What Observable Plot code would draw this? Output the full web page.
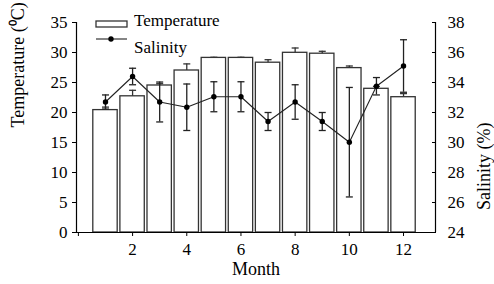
<!DOCTYPE html>
<html><head><meta charset="utf-8">
<script src="https://cdn.jsdelivr.net/npm/d3@7"></script>
<script src="https://cdn.jsdelivr.net/npm/@observablehq/plot@0.6"></script>
<style>
body{margin:0;background:#fff}
#chart{position:relative;width:494px;height:284px}
#chart svg, #chart text{font-family:"Liberation Serif","Times New Roman",serif !important}
</style>
</head><body><div id="chart"></div>
<script>
const months = [1,2,3,4,5,6,7,8,9,10,11,12];
const temperature = [20.4,22.7,24.5,27.0,29.1,29.1,28.3,29.95,29.8,27.4,23.95,22.55];
const temperatureErr = [0.5,1.0,0.3,1.1,0.1,0.1,0.5,0.8,0.4,0.35,0.4,0.6];
const salinity = [32.7,34.4,32.7,32.35,33.05,33.05,31.4,32.7,31.4,30.02,33.75,35.1];
const salinityErr = [0.47,0.55,1.33,1.55,1.0,1.0,0.6,1.15,0.6,3.65,0.58,1.75];
const xTicks = [0,2,4,6,8,10,12];
const tempTicks = [0,5,10,15,20,25,30,35];
const salTicks = [24,26,28,30,32,34,36,38];

const tDomain = [0,35], sDomain = [24,38];
const toT = s => (s - sDomain[0]) * (tDomain[1]-tDomain[0]) / (sDomain[1]-sDomain[0]) + tDomain[0];
const fromT = t => (t - tDomain[0]) * (sDomain[1]-sDomain[0]) / (tDomain[1]-tDomain[0]) + sDomain[0];

const data = months.map((m,i) => ({month:m, temp:temperature[i], tErr:temperatureErr[i], sal:salinity[i], sErr:salinityErr[i]}));
const xDomain = [-0.07, 13.18];
const font = "Liberation Serif, Times New Roman, serif";
const capSymbol = {draw(ctx, size){ const w = Math.sqrt(size/Math.PI); ctx.moveTo(-w,0); ctx.lineTo(w,0); }};

const chart = Plot.plot({
  width:494, height:284,
  marginLeft:76, marginRight:59, marginTop:22, marginBottom:52,
  style:{fontFamily:font, fontSize:"17px", color:"#000", background:"#fff", overflow:"visible"},
  x:{domain:xDomain},
  y:{domain:tDomain},
  marks:[
    Plot.ruleX(data, {x:"month", y1:d=>d.temp-d.tErr, y2:d=>d.temp+d.tErr, stroke:"#333", strokeWidth:1.3}),
    Plot.dot(data, {x:"month", y:d=>d.temp+d.tErr, symbol:capSymbol, r:3.5, stroke:"#333", fill:"none", strokeWidth:1.3}),
    Plot.rectY(data, {x1:d=>d.month-0.45, x2:d=>d.month+0.45, y:"temp", fill:"white", stroke:"#333", strokeWidth:1.3}),
    Plot.ruleX(data, {x:"month", y1:d=>toT(d.sal-d.sErr), y2:d=>toT(d.sal+d.sErr), stroke:"#222", strokeWidth:1.3}),
    Plot.dot(data, {x:"month", y:d=>toT(d.sal-d.sErr), symbol:capSymbol, r:3.5, stroke:"#222", fill:"none", strokeWidth:1.3}),
    Plot.dot(data, {x:"month", y:d=>toT(d.sal+d.sErr), symbol:capSymbol, r:3.5, stroke:"#222", fill:"none", strokeWidth:1.3}),
    Plot.line(data, {x:"month", y:d=>toT(d.sal), stroke:"#222", strokeWidth:1.1}),
    Plot.dot(data, {x:"month", y:d=>toT(d.sal), r:2.7, fill:"#000", stroke:"none"}),
    Plot.ruleX([xDomain[0]], {stroke:"#000", strokeWidth:1.2}),
    Plot.ruleX([xDomain[1]], {stroke:"#000", strokeWidth:1.2}),
    Plot.ruleY([tDomain[0]], {stroke:"#000", strokeWidth:1.2}),
    Plot.axisX({ticks:xTicks, tickFormat:d => d===0 ? "" : d, tickSize:4, tickPadding:6, label:null, fontSize:17}),
    Plot.axisY({anchor:"left", ticks:tempTicks, tickSize:4, tickPadding:5, label:null, fontSize:17}),
    Plot.axisY({anchor:"right", ticks:salTicks.map(toT), tickFormat:d => Math.round(fromT(d)), tickSize:4, dx:-4, tickPadding:12, label:null, fontSize:17}),
    Plot.text(["Temperature (⁰C)"], {frameAnchor:"left", rotate:-90, dx:-58, fontSize:18}),
    Plot.text(["Salinity (%)"], {frameAnchor:"right", rotate:-90, dx:49, dy:-5, fontSize:18}),
    Plot.text(["Month"], {frameAnchor:"bottom", dy:42, fontSize:18})
  ]
});
document.getElementById("chart").appendChild(chart);

// legend
const svg = d3.select(chart);
const lg = svg.append("g").attr("font-family", font).attr("font-size", 17).attr("fill", "#000").attr("text-anchor", "start");
lg.append("rect").attr("x",96).attr("y",21).attr("width",31).attr("height",6).attr("fill","white").attr("stroke","#333").attr("stroke-width",1.3);
lg.append("text").attr("x",134).attr("y",25.5).text("Temperature");
lg.append("line").attr("x1",96).attr("x2",127).attr("y1",39).attr("y2",39).attr("stroke","#222").attr("stroke-width",1.1);
lg.append("circle").attr("cx",111).attr("cy",39).attr("r",2.7).attr("fill","#000");
lg.append("text").attr("x",134).attr("y",53).text("Salinity");
</script>
</body></html>
